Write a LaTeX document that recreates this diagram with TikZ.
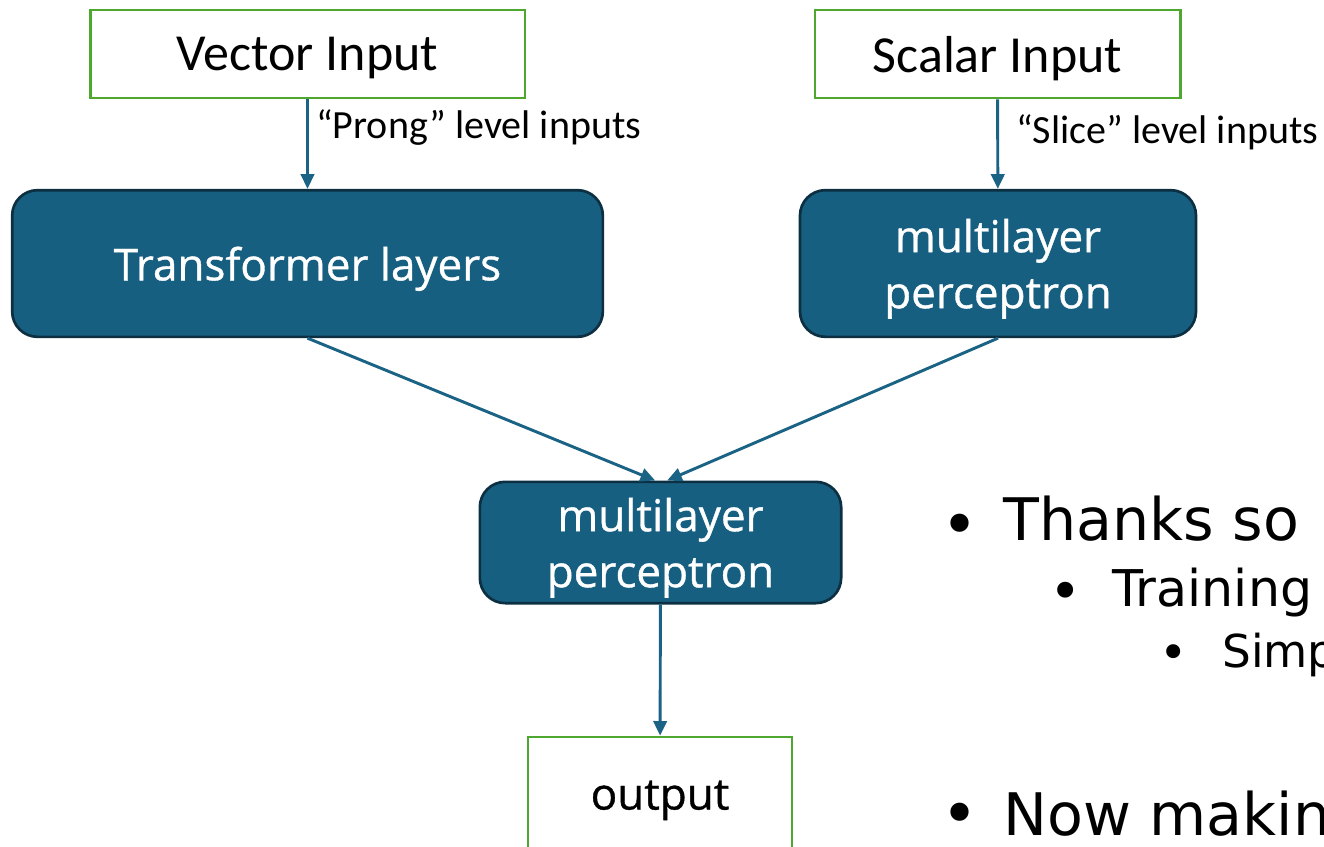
\documentclass[tikz,border=0pt]{standalone}
\usepackage{fontspec}
\setmainfont{Carlito}
\newfontfamily\boxfont{Open Sans}[FakeBold=0.8]
\newfontfamily\slidefont{DejaVu Sans}
\usepackage{tikz}
\usetikzlibrary{positioning}
\usetikzlibrary{arrows.meta,calc}
\definecolor{netblue}{HTML}{175F80}
\definecolor{netedge}{HTML}{0C2F42}
\definecolor{flowblue}{HTML}{1A6384}
\definecolor{iogreen}{HTML}{4EA72E}

\begin{document}
\begin{tikzpicture}[x=0.75pt, y=-0.75pt, >={Triangle[length=11pt,width=10pt]}, node distance=3cm]
\tikzstyle{io}=[draw=iogreen,line width=2pt,fill=white,text=black,inner sep=0pt,text depth=0pt]
\tikzstyle{layer}=[draw=netedge,line width=2pt,fill=netblue,rounded corners=19pt,text=white,inner sep=0pt,text depth=0pt,align=center,font=\boxfont\fontsize{33}{42}\selectfont]
\tikzstyle{flow}=[->,draw=flowblue,line width=2.2pt]
\tikzstyle{note}=[anchor=base west,inner sep=0pt,font=\fontsize{30}{35}\selectfont]
\useasboundingbox (0,0) rectangle (1324,846);
\clip (0,0) rectangle (1324,846);
% network boxes
\node[io,minimum width=326pt,minimum height=66pt,font=\fontsize{39}{46}\selectfont] (vin) at (307.5,54) {Vector Input};
\node[io,minimum width=274pt,minimum height=66pt,font=\fontsize{39}{46}\selectfont] (sin) at (997.5,54) {Scalar Input};
\node[layer,minimum width=443pt,minimum height=110pt] (tf) at (307.5,263.5) {Transformer layers};
\node[layer,minimum width=297pt,minimum height=110pt] (mlps) at (998,263.5) {multilayer\\perceptron};
\node[layer,minimum width=271pt,minimum height=91pt] (mlpo) at (660.5,542.5) {multilayer\\perceptron};
\node[io,minimum width=198pt,minimum height=87pt,font=\boxfont\fontsize{33}{42}\selectfont] (out) at (660,795) {output};
\node[note] (prong) at (316,138) {“Prong” level inputs};
\node[note] (slice) at (1016,143) {“Slice” level inputs};
\path
(vin) edge[flow] (tf)
(sin) edge[flow] (mlps)
(tf.south) edge[flow] ([xshift=-4pt]mlpo.north)
(mlps.south) edge[flow] ([xshift=5pt]mlpo.north)
(mlpo) edge[flow] (out)
;
% slide bullets
\node[anchor=base,inner sep=0pt,font=\slidefont\fontsize{47}{50}\selectfont] (b1) at (960,546) {•};
\node[anchor=base west,inner sep=0pt,font=\slidefont\fontsize{44}{50}\selectfont] (l1) at (1003,540) {Thanks so};
\node[anchor=base,inner sep=0pt,font=\slidefont\fontsize{41}{44}\selectfont] (b2) at (1066,610) {•};
\node[anchor=base west,inner sep=0pt,font=\slidefont\fontsize{38}{44}\selectfont] (l2) at (1112,606) {Training};
\node[anchor=base,inner sep=0pt,font=\slidefont\fontsize{36}{40}\selectfont] (b3) at (1174,669) {•};
\node[anchor=base west,inner sep=0pt,font=\slidefont\fontsize{34}{40}\selectfont] (l3) at (1222,667) {Simp};
\node[anchor=base,inner sep=0pt,font=\slidefont\fontsize{47}{50}\selectfont] (b4) at (960,835) {•};
\node[anchor=base west,inner sep=0pt,font=\slidefont\fontsize{44}{50}\selectfont] (l4) at (1003,835) {Now makin};
\end{tikzpicture}
\end{document}
